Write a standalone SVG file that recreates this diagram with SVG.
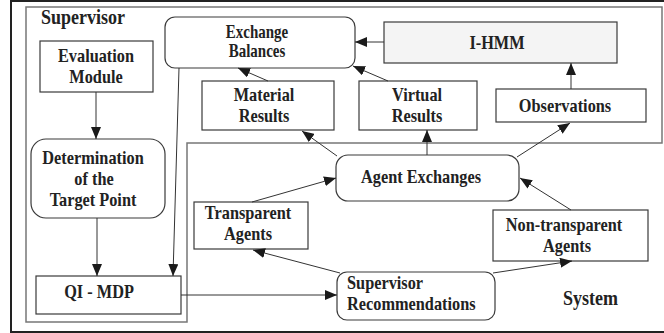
<svg xmlns="http://www.w3.org/2000/svg" width="664" height="333" viewBox="0 0 664 333">
<defs>
<style>
.box{fill:#fff;stroke:#3a3a3a;stroke-width:1.2}
.region{fill:none;stroke:#777;stroke-width:1.5}
.frame{fill:none;stroke:#222;stroke-width:2}
.edge{fill:none;stroke:#333;stroke-width:1}
text{font-family:"Liberation Serif","Times New Roman",serif;font-weight:bold;font-size:16.3px;fill:#222}
.c{text-anchor:middle}
.lbl{font-size:18px}
.eb{font-size:15px}
</style>
<marker id="ah" markerWidth="12" markerHeight="10" refX="12" refY="5" orient="auto" markerUnits="userSpaceOnUse">
<path d="M0,0 L12,5 L0,10 z" fill="#1a1a1a"/>
</marker>
</defs>
<rect width="664" height="333" fill="#fff"/>
<rect class="frame" x="11" y="1" width="700" height="331"/>
<path class="region" d="M26 7 H662 V143 H187 V322 H26 Z"/>
<text class="lbl" transform="translate(41 24) scale(1 1.2)">Supervisor</text>
<text class="lbl" transform="translate(563 305) scale(1 1.2)">System</text>

<g id="evaluation-module">
<rect class="box" x="40" y="41" width="113" height="51"/>
<text class="c" transform="translate(96 62) scale(1 1.2)">Evaluation</text>
<text class="c" transform="translate(96 83) scale(1 1.2)">Module</text>
</g>
<g id="determination">
<rect class="box" x="31" y="139" width="134" height="79" rx="15"/>
<text class="c" transform="translate(93 164) scale(1 1.2)">Determination</text>
<text class="c" transform="translate(94 185) scale(1 1.2)">of the</text>
<text class="c" transform="translate(93 206) scale(1 1.2)">Target Point</text>
</g>
<g id="qi-mdp">
<rect class="box" x="36" y="276" width="145" height="38"/>
<text class="c" transform="translate(99 298) scale(1 1.2)">QI - MDP</text>
</g>
<g id="exchange-balances">
<rect class="box" x="165" y="17" width="190" height="51" rx="10"/>
<text class="c eb" transform="translate(257 38) scale(1 1.2)">Exchange</text>
<text class="c eb" transform="translate(257 57) scale(1 1.2)">Balances</text>
</g>
<g id="i-hmm">
<rect class="box" x="384" y="22" width="233" height="41" style="fill:#f4f4f4"/>
<text class="c" transform="translate(497 49) scale(1 1.2)">I-HMM</text>
</g>
<g id="material-results">
<rect class="box" x="202" y="81" width="132" height="49"/>
<text class="c" transform="translate(264 101) scale(1 1.2)">Material</text>
<text class="c" transform="translate(264 122) scale(1 1.2)">Results</text>
</g>
<g id="virtual-results">
<rect class="box" x="359" y="81" width="118" height="49"/>
<text class="c" transform="translate(417 101) scale(1 1.2)">Virtual</text>
<text class="c" transform="translate(417 122) scale(1 1.2)">Results</text>
</g>
<g id="observations">
<rect class="box" x="496" y="89" width="150" height="33"/>
<text class="c" transform="translate(565 112) scale(1 1.2)">Observations</text>
</g>
<g id="agent-exchanges">
<rect class="box" x="336" y="155" width="183" height="46" rx="12"/>
<text class="c" transform="translate(421 183) scale(1 1.2)">Agent Exchanges</text>
</g>
<g id="transparent-agents">
<rect class="box" x="194" y="202" width="114" height="47"/>
<text class="c" transform="translate(248 219) scale(1 1.2)">Transparent</text>
<text class="c" transform="translate(248 240) scale(1 1.2)">Agents</text>
</g>
<g id="non-transparent-agents">
<rect class="box" x="493" y="210" width="155" height="51"/>
<text class="c" transform="translate(564 231) scale(1 1.2)">Non-transparent</text>
<text class="c" transform="translate(567 252) scale(1 1.2)">Agents</text>
</g>
<g id="supervisor-recommendations">
<rect class="box" x="337" y="272" width="158" height="48" rx="10"/>
<text transform="translate(347 289) scale(1 1.2)">Supervisor</text>
<text transform="translate(347 310) scale(1 1.2)">Recommendations</text>
</g>

<g id="connectors">
<line class="edge" x1="96" y1="92" x2="96" y2="139" marker-end="url(#ah)"/>
<line class="edge" x1="97" y1="218" x2="97" y2="276" marker-end="url(#ah)"/>
<line class="edge" x1="179" y1="68" x2="173" y2="276" marker-end="url(#ah)"/>
<line class="edge" x1="384" y1="42" x2="355" y2="42" marker-end="url(#ah)"/>
<line class="edge" x1="268" y1="81" x2="238" y2="68" marker-end="url(#ah)"/>
<line class="edge" x1="388" y1="81" x2="353" y2="66" marker-end="url(#ah)"/>
<line class="edge" x1="571" y1="89" x2="571" y2="63" marker-end="url(#ah)"/>
<line class="edge" x1="337" y1="156" x2="302" y2="131" marker-end="url(#ah)"/>
<line class="edge" x1="427" y1="155" x2="427" y2="130" marker-end="url(#ah)"/>
<line class="edge" x1="517" y1="157" x2="570" y2="123" marker-end="url(#ah)"/>
<line class="edge" x1="252" y1="202" x2="336" y2="178" marker-end="url(#ah)"/>
<line class="edge" x1="571" y1="210" x2="520" y2="178" marker-end="url(#ah)"/>
<line class="edge" x1="181" y1="295" x2="337" y2="295" marker-end="url(#ah)"/>
<line class="edge" x1="340" y1="273" x2="253" y2="250" marker-end="url(#ah)"/>
<line class="edge" x1="493" y1="273" x2="572" y2="261" marker-end="url(#ah)"/>
</g>
</svg>
